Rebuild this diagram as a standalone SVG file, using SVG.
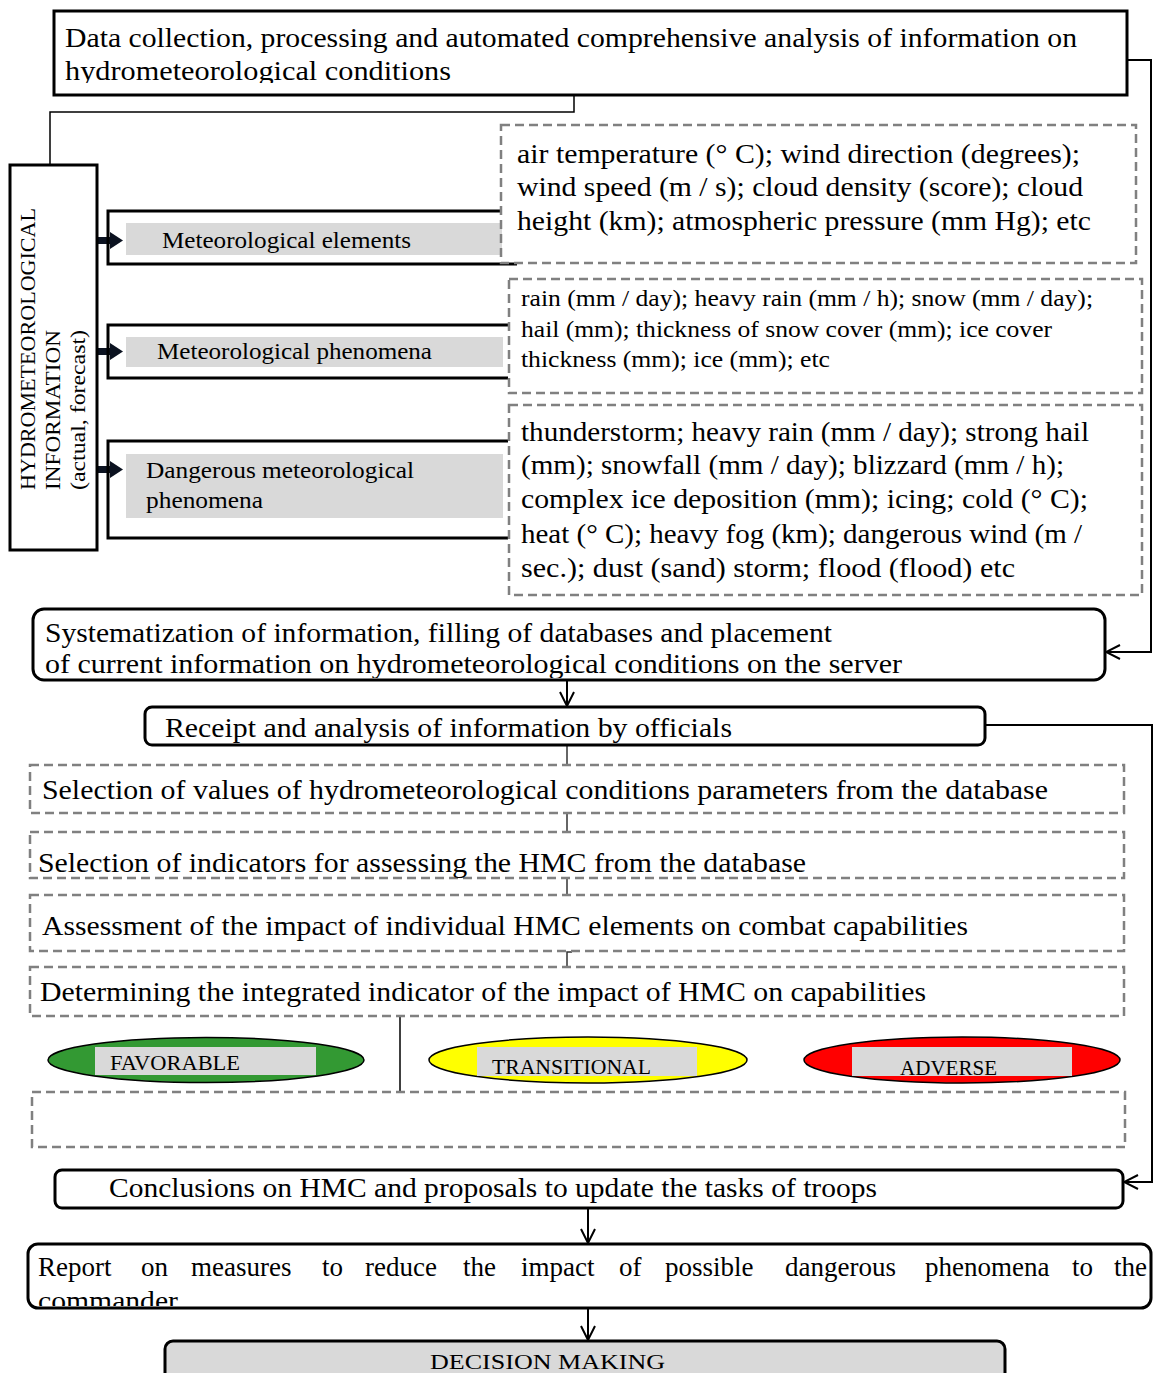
<svg xmlns="http://www.w3.org/2000/svg" width="1153" height="1373" viewBox="0 0 1153 1373">
<style>
.t{font-family:"Liberation Serif","Times New Roman",serif;fill:#000}
.f27{font-size:27px}
.f24{font-size:24px}
.f22{font-size:22px}
.box{fill:#fff;stroke:#000;stroke-width:3}
.brk{fill:none;stroke:#000;stroke-width:3}
.dash{fill:none;stroke:#808080;stroke-width:2.5;stroke-dasharray:9 5}
.gray{fill:#d9d9d9}
.conn{fill:none;stroke:#000;stroke-width:2}
.thin{fill:none;stroke:#000;stroke-width:1.5}
.tick{fill:none;stroke:#333;stroke-width:1.5}
.harrow{fill:#0b1220}
.ell{stroke:#000;stroke-width:1.5}
</style>
<defs>
<marker id="open" viewBox="0 0 16 16" refX="15" refY="8" markerWidth="16" markerHeight="16" markerUnits="userSpaceOnUse" orient="auto">
<path d="M1,1 L15,8 L1,15" fill="none" stroke="#000" stroke-width="2"/>
</marker>
<clipPath id="clipTop"><rect x="0" y="0" width="1153" height="83"/></clipPath>
<clipPath id="clipSys"><rect x="0" y="600" width="1153" height="78"/></clipPath>
<clipPath id="clipRep"><rect x="0" y="1240" width="1153" height="66"/></clipPath>
</defs>
<rect x="0" y="0" width="1153" height="1373" fill="#fff"/>

<g id="connectors">
<path class="thin" d="M574,95 V112 H50 V165"/>
<path class="conn" d="M1127,60 H1151 V652 H1106" marker-end="url(#open)"/>
<path class="conn" d="M567,680 V706" marker-end="url(#open)"/>
<path class="conn" d="M985,725 H1152 V1182 H1124" marker-end="url(#open)"/>
<path class="tick" d="M567,745 V765"/>
<path class="tick" d="M567,813 V832"/>
<path class="tick" d="M567,878 V895"/>
<path class="tick" d="M567,967 V952 H572"/>
<path class="thin" d="M400,1017 V1092"/>
<path class="conn" d="M588,1208 V1243" marker-end="url(#open)"/>
<path class="conn" d="M588,1308 V1340" marker-end="url(#open)"/>
<g class="harrow">
<rect x="97" y="237" width="14" height="7"/><polygon points="110,232 123,240.5 110,249"/>
<rect x="97" y="348" width="14" height="7"/><polygon points="110,343 123,351.5 110,360"/>
<rect x="97" y="466" width="14" height="7"/><polygon points="110,461 123,469.5 110,478"/>
</g>
</g>

<g id="node-collection">
<rect class="box" x="54" y="11" width="1073" height="84"/>
<g clip-path="url(#clipTop)">
<text class="t f27" x="65" y="47" textLength="1012" lengthAdjust="spacingAndGlyphs">Data collection, processing and automated comprehensive analysis of information on</text>
<text class="t f27" x="65" y="80" textLength="386" lengthAdjust="spacingAndGlyphs">hydrometeorological conditions</text>
</g>
</g>

<g id="node-hmi">
<rect class="box" x="10" y="165" width="87" height="385"/>
<text class="t f22" transform="translate(35,490) rotate(-90)" textLength="282" lengthAdjust="spacingAndGlyphs" fill="#1c2236">HYDROMETEOROLOGICAL</text>
<text class="t f22" transform="translate(60,490) rotate(-90)" textLength="160" lengthAdjust="spacingAndGlyphs" fill="#1c2236">INFORMATION</text>
<text class="t f22" transform="translate(85,490) rotate(-90)" textLength="160" lengthAdjust="spacingAndGlyphs">(actual, forecast)</text>
</g>

<g id="node-elements">
<rect class="gray" x="126" y="223" width="376" height="32"/>
<path class="brk" d="M501,211 H108 V264 H517"/>
<text class="t f24" x="162" y="248" textLength="249" lengthAdjust="spacingAndGlyphs">Meteorological elements</text>
</g>

<g id="node-phenomena">
<rect class="gray" x="126" y="337" width="377" height="30"/>
<path class="brk" d="M508,325 H108 V378 H508"/>
<text class="t f24" x="157" y="359" textLength="275" lengthAdjust="spacingAndGlyphs">Meteorological phenomena</text>
</g>

<g id="node-dangerous">
<rect class="gray" x="126" y="454" width="377" height="64"/>
<path class="brk" d="M508,441 H108 V538 H508"/>
<text class="t f24" x="146" y="478" textLength="268" lengthAdjust="spacingAndGlyphs">Dangerous meteorological</text>
<text class="t f24" x="146" y="508" textLength="117" lengthAdjust="spacingAndGlyphs">phenomena</text>
</g>

<g id="node-elements-desc">
<rect class="dash" x="501" y="125" width="635" height="138"/>
<text class="t f27" x="517" y="163" textLength="563" lengthAdjust="spacingAndGlyphs">air temperature (° C); wind direction (degrees);</text>
<text class="t f27" x="517" y="196" textLength="566" lengthAdjust="spacingAndGlyphs">wind speed (m / s); cloud density (score); cloud</text>
<text class="t f27" x="517" y="230" textLength="574" lengthAdjust="spacingAndGlyphs">height (km); atmospheric pressure (mm Hg); etc</text>
</g>

<g id="node-phenomena-desc">
<rect class="dash" x="509" y="279" width="633" height="114"/>
<text class="t f24" x="521" y="306" textLength="572" lengthAdjust="spacingAndGlyphs">rain (mm / day); heavy rain (mm / h); snow (mm / day);</text>
<text class="t f24" x="521" y="337" textLength="531" lengthAdjust="spacingAndGlyphs">hail (mm); thickness of snow cover (mm); ice cover</text>
<text class="t f24" x="521" y="367" textLength="309" lengthAdjust="spacingAndGlyphs">thickness (mm); ice (mm); etc</text>
</g>

<g id="node-dangerous-desc">
<rect class="dash" x="509" y="405" width="633" height="190"/>
<text class="t f27" x="521" y="441" textLength="568" lengthAdjust="spacingAndGlyphs">thunderstorm; heavy rain (mm / day); strong hail</text>
<text class="t f27" x="521" y="474" textLength="543" lengthAdjust="spacingAndGlyphs">(mm); snowfall (mm / day); blizzard (mm / h);</text>
<text class="t f27" x="521" y="508" textLength="567" lengthAdjust="spacingAndGlyphs">complex ice deposition (mm); icing; cold (° C);</text>
<text class="t f27" x="521" y="543" textLength="561" lengthAdjust="spacingAndGlyphs">heat (° C); heavy fog (km); dangerous wind (m /</text>
<text class="t f27" x="521" y="577" textLength="494" lengthAdjust="spacingAndGlyphs">sec.); dust (sand) storm; flood (flood) etc</text>
</g>

<g id="node-systematization">
<rect class="box" x="33" y="609" width="1072" height="71" rx="11"/>
<text class="t f27" x="45" y="642" textLength="787" lengthAdjust="spacingAndGlyphs">Systematization of information, filling of databases and placement</text>
<g clip-path="url(#clipSys)">
<text class="t f27" x="45" y="673" textLength="857" lengthAdjust="spacingAndGlyphs">of current information on hydrometeorological conditions on the server</text>
</g>
</g>

<g id="node-receipt">
<rect class="box" x="145" y="707" width="840" height="38" rx="7"/>
<text class="t f27" x="165" y="737" textLength="567" lengthAdjust="spacingAndGlyphs">Receipt and analysis of information by officials</text>
</g>

<g id="node-select-values">
<rect class="dash" x="30" y="765" width="1094" height="48"/>
<text class="t f27" x="42" y="799" textLength="1006" lengthAdjust="spacingAndGlyphs">Selection of values of hydrometeorological conditions parameters from the database</text>
</g>

<g id="node-select-indicators">
<rect class="dash" x="30" y="832" width="1094" height="46"/>
<text class="t f27" x="38" y="872" textLength="768" lengthAdjust="spacingAndGlyphs">Selection of indicators for assessing the HMC from the database</text>
</g>

<g id="node-assessment">
<rect class="dash" x="30" y="895" width="1094" height="56"/>
<text class="t f27" x="42" y="935" textLength="926" lengthAdjust="spacingAndGlyphs">Assessment of the impact of individual HMC elements on combat capabilities</text>
</g>

<g id="node-integrated">
<rect class="dash" x="30" y="967" width="1094" height="49"/>
<text class="t f27" x="40" y="1001" textLength="886" lengthAdjust="spacingAndGlyphs">Determining the integrated indicator of the impact of HMC on capabilities</text>
</g>

<g id="node-favorable">
<ellipse class="ell" cx="206" cy="1060" rx="158" ry="22.5" fill="#339933"/>
<rect class="gray" x="95" y="1047" width="221" height="28"/>
<text class="t f22" x="110" y="1070" textLength="130" lengthAdjust="spacingAndGlyphs">FAVORABLE</text>
</g>

<g id="node-transitional">
<ellipse class="ell" cx="588" cy="1060" rx="159" ry="23" fill="#ffff00"/>
<rect class="gray" x="477" y="1047" width="220" height="29"/>
<text class="t f22" x="492" y="1074" textLength="159" lengthAdjust="spacingAndGlyphs">TRANSITIONAL</text>
</g>

<g id="node-adverse">
<ellipse class="ell" cx="962" cy="1060" rx="158" ry="23" fill="#ff0000"/>
<rect class="gray" x="852" y="1047" width="220" height="29"/>
<text class="t f22" x="900" y="1075" textLength="97" lengthAdjust="spacingAndGlyphs">ADVERSE</text>
</g>

<g id="node-empty">
<rect class="dash" x="32" y="1092" width="1093" height="55"/>
</g>

<g id="node-conclusions">
<rect class="box" x="55" y="1170" width="1068" height="38" rx="7"/>
<text class="t f27" x="109" y="1197" textLength="768" lengthAdjust="spacingAndGlyphs">Conclusions on HMC and proposals to update the tasks of troops</text>
</g>

<g id="node-report">
<rect class="box" x="28" y="1244" width="1123" height="64" rx="10"/>
<text class="t f27" y="1276"><tspan x="38">Report</tspan><tspan x="141">on</tspan><tspan x="191">measures</tspan><tspan x="322">to</tspan><tspan x="365">reduce</tspan><tspan x="463">the</tspan><tspan x="521">impact</tspan><tspan x="619">of</tspan><tspan x="665">possible</tspan><tspan x="785">dangerous</tspan><tspan x="925">phenomena</tspan><tspan x="1072">to</tspan><tspan x="1114">the</tspan></text>
<g clip-path="url(#clipRep)">
<text class="t f27" x="38" y="1310" textLength="140" lengthAdjust="spacingAndGlyphs">commander</text>
</g>
</g>

<g id="node-decision">
<rect x="165" y="1341" width="840" height="60" rx="8" fill="#d9d9d9" stroke="#000" stroke-width="3"/>
<text class="t f22" x="430" y="1369" textLength="235" lengthAdjust="spacingAndGlyphs">DECISION MAKING</text>
</g>
</svg>
